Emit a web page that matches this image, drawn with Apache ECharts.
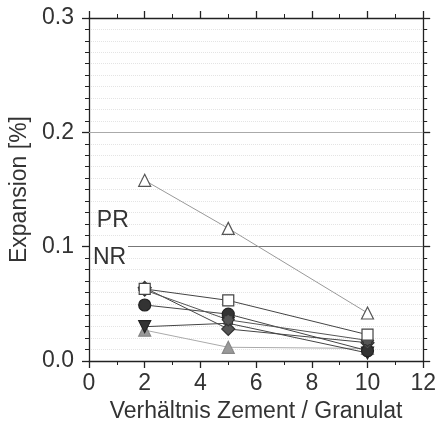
<!DOCTYPE html>
<html><head><meta charset="utf-8">
<script src="https://cdn.jsdelivr.net/npm/echarts@6/dist/echarts.min.js"></script>
<style>html,body{margin:0;padding:0;background:#fff}#c{width:439px;height:435px}</style>
</head><body><div id="c"></div>
<script>
const xCats = [2, 5, 10];
const openTriangle = [0.158, 0.116, 0.042];
const openSquare = [0.063, 0.053, 0.023];
const flowerMark = [0.062, 0.036, 0.018];
const diamondMark = [0.064, 0.028, 0.016];
const filledCircle = [0.049, 0.041, 0.009];
const invTriangle = [0.030, 0.033, 0.007];
const grayTriangle = [0.027, 0.012, 0.011];
const yTicks = [0.0, 0.1, 0.2, 0.3];
const limitLines = [{name: 'NR', value: 0.1, start: 1.4, color: '#777'}, {name: '', value: 0.2, start: 0, color: '#aaa'}];
const zoneLabels = [{text: 'PR', x: 0.28, y: 0.123}, {text: 'NR', x: 0.14, y: 0.090}];

const font = 'Liberation Sans, Arial, sans-serif';
const FS = 23;
const pts = arr => arr.map((v, i) => [xCats[i], v]);
const flowerPath = 'path://M0,-10 L3,-7 L7,-7 L7,-3 L10,0 L7,3 L7,7 L3,7 L0,10 L-3,7 L-7,7 L-7,3 L-10,0 L-7,-3 L-7,-7 L-3,-7 Z';

function ser(name, data, symbol, fill, stroke, lineColor, rotate, size) {
  return {
    name, type: 'line', data: pts(data), symbol, symbolSize: size || 12,
    symbolRotate: rotate || 0,
    itemStyle: {color: fill, borderColor: stroke, borderWidth: 1.2},
    lineStyle: {color: lineColor, width: 1},
    z: 5
  };
}

const chart = echarts.init(document.getElementById('c'));
const axLine = {show: true, onZero: false, lineStyle: {color: '#222', width: 1.3}};
const axTick = {show: true, inside: false, length: 7, lineStyle: {color: '#222', width: 1.3}};
const series = [
  ser('grayTriangle', grayTriangle, 'triangle', '#999', '#888', '#aaa'),
  ser('invTriangle', invTriangle, 'triangle', '#333', '#222', '#444', 180),
  ser('filledCircle', filledCircle, 'circle', '#333', '#222', '#444'),
  ser('diamondMark', diamondMark, 'diamond', '#555', '#333', '#444', 0, 13),
  ser('flowerMark', flowerMark, flowerPath, '#555', '#333', '#555'),
  ser('openSquare', openSquare, 'rect', '#fff', '#444', '#444', 0, 11),
  ser('openTriangle', openTriangle, 'triangle', '#fff', '#555', '#999'),
];
series.push({
  type: 'line', data: [], silent: true,
  markLine: {
    symbol: 'none', silent: true, label: {show: false},
    data: limitLines.map(l => [{coord: [l.start, l.value], lineStyle: {type: 'solid', color: l.color, width: 1}}, {coord: [12, l.value]}])
  }
});

chart.setOption({
  animation: false,
  grid: {left: 88, right: 11, top: 18, bottom: 74},
  xAxis: [
    {type: 'value', min: 0, max: 12, interval: 2, position: 'bottom',
      axisLine: axLine, axisTick: axTick,
      minorTick: {show: true, splitNumber: 2, length: 4, lineStyle: {color: '#222'}},
      splitLine: {show: false},
      axisLabel: {fontSize: FS, color: '#333', fontFamily: font, margin: 11},
      name: 'Verhältnis Zement / Granulat', nameLocation: 'middle', nameGap: 38,
      nameTextStyle: {fontSize: FS, color: '#333', fontFamily: font}},
    {type: 'value', min: 0, max: 12, interval: 2, position: 'top',
      axisLine: axLine, axisTick: axTick,
      minorTick: {show: true, splitNumber: 2, length: 4, lineStyle: {color: '#222'}},
      splitLine: {show: false}, axisLabel: {show: false}}
  ],
  yAxis: [
    {type: 'value', min: 0, max: 0.3, interval: 0.1, position: 'left',
      axisLine: axLine, axisTick: axTick,
      minorTick: {show: true, splitNumber: 10, length: 4, lineStyle: {color: '#222'}},
      splitLine: {show: false},
      minorSplitLine: {show: true, lineStyle: {color: '#e4e4e4', type: 'dotted', width: 1}},
      axisLabel: {fontSize: FS, color: '#333', fontFamily: font, margin: 15,
        formatter: v => { const t = yTicks.find(y => Math.abs(y - v) < 1e-9); return t === undefined ? '' : t.toFixed(1); }},
      name: 'Expansion [%]', nameLocation: 'middle', nameGap: 58,
      nameTextStyle: {fontSize: FS, color: '#333', fontFamily: font}},
    {type: 'value', min: 0, max: 0.3, interval: 0.1, position: 'right',
      axisLine: axLine, axisTick: axTick,
      minorTick: {show: true, splitNumber: 10, length: 4, lineStyle: {color: '#222'}},
      splitLine: {show: false}, axisLabel: {show: false}}
  ],
  series
});

const g = zoneLabels.map(z => {
  const p = chart.convertToPixel({xAxisIndex: 0, yAxisIndex: 0}, [z.x, z.y]);
  return {type: 'text', x: p[0], y: p[1], style: {text: z.text, fill: '#333', font: FS + 'px ' + font, verticalAlign: 'middle'}, z: 10};
});
chart.setOption({graphic: g});
</script></body></html>
